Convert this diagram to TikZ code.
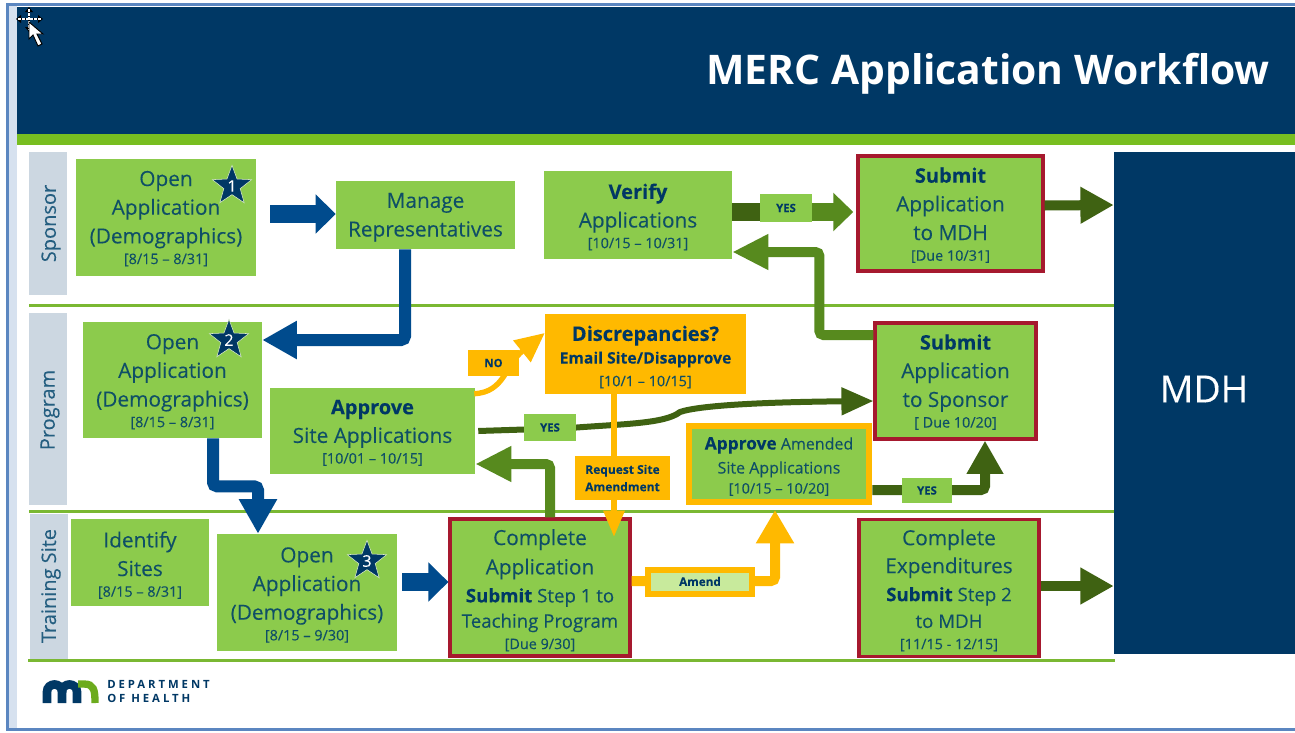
\documentclass[tikz,border=0pt]{standalone}
\usepackage{fontspec}
\setmainfont{Open Sans}[FakeBold=0.12]
\newfontfamily\plainf{Open Sans}
\usetikzlibrary{arrows.meta,shapes.geometric}
\definecolor{navy}{HTML}{003865}
\definecolor{barg}{HTML}{78BE20}
\definecolor{lineg}{HTML}{7AB832}
\definecolor{boxg}{HTML}{8CCB4C}
\definecolor{txt}{HTML}{0F4F66}
\definecolor{lane}{HTML}{CCD7E1}
\definecolor{lanetxt}{HTML}{245E80}
\definecolor{crim}{HTML}{A6192E}
\definecolor{gold}{HTML}{FFB900}
\definecolor{blu}{HTML}{004B8D}
\definecolor{dkg}{HTML}{3F6212}
\definecolor{mdg}{HTML}{578A1E}
\definecolor{pale}{HTML}{C8EA9C}
\definecolor{frameb}{HTML}{5B86C0}
\newcommand{\dt}[1]{{\fontsize{10.8}{14}\selectfont #1}}
\newcommand{\bd}[1]{{\bfseries\color{navy}#1}}
\newcommand{\bdl}[1]{{\fontsize{15}{21.5}\selectfont\bfseries\color{navy}#1}}
\newcommand{\tp}[1]{\rule{0pt}{#1pt}}
\tikzset{
  sz/.style 2 args={minimum width=#1*0.75pt,minimum height=#2*0.75pt},
  boxs/.style={fill=boxg,inner sep=0pt,align=center,text=txt,font=\fontsize{15.6}{21.5}\selectfont},
  redbox/.style={boxs,draw=crim,line width=2.4pt},
  goldbox/.style={fill=gold,inner sep=0pt,align=center,text=navy},
  lab/.style={fill=boxg,inner sep=0pt,text=navy,font=\fontsize{8.5}{10}\selectfont\bfseries},
  lanebox/.style={fill=lane,inner sep=0pt},
  lanetext/.style={rotate=90,text=lanetxt,inner sep=0pt,font=\fontsize{15}{18}\selectfont},
  starn/.style={star,star points=5,star point ratio=2.4,fill=navy,draw=boxg!30,line width=0.4pt,inner sep=0pt,minimum size=31pt},
  stnum/.style={inner sep=0pt,text=white,font=\fontsize{12}{12}\selectfont},
  bluearr/.style={draw=blu,line width=13pt,-{Triangle[width=28.5pt,length=15pt]}},
  blubend/.style={draw=blu,line width=9pt,rounded corners=3pt,-{Triangle[width=27pt,length=26pt]}},
  dkarr/.style={draw=dkg,line width=7.5pt,-{Triangle[width=26pt,length=25pt]}},
  mdarr/.style={draw=mdg,line width=7.5pt,rounded corners=3pt,-{Triangle[width=25pt,length=27pt]}},
  goldarr/.style={draw=gold,line width=7.5pt,rounded corners=3pt,-{Triangle[width=27pt,length=25pt]}},
}
\begin{document}
\begin{tikzpicture}[x=0.75pt,y=-0.75pt]
\useasboundingbox (0,0) rectangle (1295,732);
% window frame
\fill[white] (0,0) rectangle (1295,732);
\fill[frameb] (6,3) rectangle (1295,6);
\fill[frameb] (6,3) rectangle (9,731);
\fill[frameb] (6,728) rectangle (1295,731);
\fill[frameb!25] (9,6) rectangle (17,728);
% header
\fill[navy] (17,7) rectangle (1295,134);
\fill[barg] (17,134) rectangle (1295,145);
\node[inner sep=0pt,anchor=east,text=white,font=\fontsize{30.6}{36}\selectfont\bfseries\plainf] (title) at (1270,74) {MERC Application Workflow};
% lanes
\node[lanebox,sz={38}{143}] (lane1) at (48,223.5) {};
\node[lanebox,sz={38}{192}] (lane2) at (48,409) {};
\node[lanebox,sz={38}{146}] (lane3) at (49,587) {};
\node[lanetext] (t1) at (51,223.5) {Sponsor};
\node[lanetext] (t2) at (50,410) {Program};
\node[lanetext] (t3) at (51,586) {Training Site};
\fill[lineg] (29,304) rectangle (1115,307);
\fill[lineg] (29,510) rectangle (1115,513);
\fill[lineg] (28,659) rectangle (1115,662);
% MDH
\node[fill=navy,inner sep=0pt,sz={181}{502}] (mdh) at (1204.5,403) {};
\node[inner sep=0pt,text=white,font=\fontsize{28}{30}\selectfont] (mdht) at (1204,389) {MDH};
% green boxes
\node[boxs,sz={180}{117}] (open1) at (166,217.5) {\tp{13}Open\\Application\\(Demographics)\\[-6pt]\dt{[8/15 -- 8/31]}};
\node[boxs,sz={179}{68}] (manage) at (425.5,215) {\tp{14.5}Manage\\Representatives};
\node[boxs,sz={188}{88}] (verify) at (638,215) {\tp{14.5}\bdl{Verify}\\Applications\\[-6pt]\dt{[10/15 -- 10/31]}};
\node[redbox,sz={185}{115}] (submitm) at (950.5,213.5) {\tp{14}\bdl{Submit}\\Application\\to MDH\\[-6pt]\dt{[Due 10/31]}};
\node[boxs,sz={179}{116}] (open2) at (172.5,380) {\tp{14}Open\\Application\\(Demographics)\\[-6pt]\dt{[8/15 -- 8/31]}};
\node[boxs,sz={205}{86}] (approve) at (372.5,431) {\tp{13.5}\bdl{Approve}\\Site Applications\\[-6pt]\dt{[10/01 -- 10/15]}};
\node[goldbox,sz={201}{80},font=\fontsize{11.8}{17}\selectfont] (disc) at (645.5,354) {\tp{16}{\fontsize{15}{19}\selectfont\bfseries Discrepancies?}\\{\bfseries Email Site/Disapprove}\\\dt{\color{txt}[10/1 -- 10/15]}};
\node[boxs,draw=gold,line width=5pt,sz={180}{76},font=\fontsize{12}{18}\selectfont] (amended) at (779,464) {\tp{13}{\fontsize{13}{18}\selectfont\bd{Approve}} Amended\\Site Applications\\[-3pt]\dt{[10/15 -- 10/20]}};
\node[redbox,sz={161}{116}] (submits) at (955.5,381) {\tp{13}\bdl{Submit}\\Application\\to Sponsor\\[-6pt]\dt{[ Due 10/20]}};
\node[boxs,sz={138}{87}] (identify) at (140,562.5) {\tp{16}Identify\\Sites\\[-6pt]\dt{[8/15 -- 8/31]}};
\node[boxs,sz={180}{117}] (open3) at (307,592.5) {\tp{15}Open\\Application\\(Demographics)\\[-6pt]\dt{[8/15 -- 9/30]}};
\node[redbox,sz={180}{137},font=\fontsize{14}{19}\selectfont] (complete) at (540,587.5) {\tp{16}{\fontsize{15.6}{21}\selectfont Complete}\\[3pt]{\fontsize{15.6}{21}\selectfont Application}\\[2pt]\bd{Submit} Step 1 to\\Teaching Program\\[-3pt]\dt{[Due 9/30]}};
\node[redbox,sz={180}{137},font=\fontsize{14}{19}\selectfont] (expend) at (949,588) {\tp{15.5}{\fontsize{15.6}{21}\selectfont Complete}\\[2pt]{\fontsize{15.6}{21}\selectfont Expenditures}\\[2pt]\bd{Submit} Step 2\\[1pt]to MDH\\[-3pt]\dt{[11/15 - 12/15]}};
% stars
\node[starn] (s1) at (232,186) {};
\node[stnum] at (s1) {1};
\node[starn] (s2) at (229,340) {};
\node[stnum] at (s2) {2};
\node[starn] (s3) at (367,561) {};
\node[stnum] at (s3) {3};
% connectors under labels
\draw[bluearr] (open1.east |- 0,214) ++(14,0) -- (manage.west |- 0,214);
\draw[blubend] (manage.south) ++(-20.5,0) |- (open2.east |- 0,340);
\draw[blubend] (open2.south) ++(40.5,0) |- ++(45,48) -- (open3.north -| 258,0);
\draw[bluearr] (open3.east |- 0,582) ++(5,0) -- (complete.west |- 0,582);
\draw[mdarr] (submits.west) ++(0,-46) -| ++(-54,-83) -- (verify.east |- 0,252);
\draw[mdarr] (complete.north) ++(10,0) |- (approve.east |- 0,464);
\draw[dkarr] (submitm.east) ++(0,-8) -- (mdh.west |- 0,205);
\draw[dkarr] (expend.east) ++(0,-2) -- (mdh.west |- 0,586);
\draw[draw=dkg,line width=4.5pt,-{Triangle[width=20pt,length=24pt]}] (approve.east) ++(3,0) -- (570,428) .. controls (620,424) and (665,424) .. (680,412) .. controls (700,405) and (770,402) .. (submits.west |- 0,401);
\draw[draw=dkg,line width=7.5pt,rounded corners=3pt,-{Triangle[width=26pt,length=25pt]}] (amended.east) ++(0,26) -| (submits.south -| 985,0);
\draw[draw=gold,line width=4.5pt,-{Triangle[width=15pt,length=20pt]}] (disc.south) ++(-31.5,0) -- ++(0,143);
\draw[draw=gold,line width=4pt,-{Triangle[width=20pt,length=22pt]}] (approve.north east) ++(-1,6) .. controls (505,392) and (505,365) .. (disc.west |- 0,333);
\coordinate (amtip) at (775,510);
\draw[goldarr] (complete.east) ++(0,-6.5) -| (amtip);
% labels
\node[lab,sz={52}{28}] (yes1) at (786,208) {YES};
\draw[draw=dkg,line width=13pt] (verify.east |- 0,212) -- (yes1.west |- 0,212);
\draw[draw=mdg,line width=13pt,-{Triangle[width=28pt,length=15pt]}] (yes1.east |- 0,212) -- ++(41,0);
\node[lab,sz={52}{27}] (yes2) at (550,427.5) {YES};
\node[lab,sz={50}{25}] (yes3) at (927,490.5) {YES};
\node[goldbox,sz={51}{26},font=\fontsize{8.5}{10}\selectfont\bfseries] (no) at (493.5,363) {NO};
\node[goldbox,sz={95}{44},font=\fontsize{9}{13}\selectfont\bfseries] (request) at (622.5,478) {Request Site\\Amendment};
\node[fill=pale,draw=gold,line width=4.5pt,inner sep=0pt,text=navy,sz={104}{24},font=\fontsize{8.8}{10}\selectfont\bfseries] (amend) at (700,581.5) {Amend};
% logo
\draw[navy,line width=6.5pt] (47,703) -- (47,692) .. controls (47,682) and (62,682) .. (62,692) -- (62,703);
\draw[navy,line width=6.5pt] (62,692) .. controls (62,682) and (77,682) .. (77,692) -- (77,703);
\draw[barg!90!black,line width=5.5pt] (78,684) -- (84,684) .. controls (94,684) and (95,690) .. (95,703);
\node[inner sep=0pt,anchor=west,text=navy,align=left,font=\fontsize{8.5}{10.5}\selectfont\bfseries\plainf\addfontfeatures{LetterSpace=26}] (dept) at (107,691) {DEPARTMENT\\OF HEALTH};
% cursor
\fill[black] (29,7) -- (33,12) -- (25,12) -- cycle;
\fill[black] (29,32) -- (33,27) -- (25,27) -- cycle;
\fill[black] (16,19) -- (21,15) -- (21,23) -- cycle;
\fill[black] (43,19) -- (38,15) -- (38,23) -- cycle;
\draw[black,line width=2pt] (29,10) -- (29,29) (19,19) -- (40,19);
\draw[white,line width=1pt,dash pattern=on 2pt off 1pt] (29,9) -- (29,30) (18,19) -- (41,19);
\draw[black,fill=white,line width=0.7pt] (29,22) -- (29,39) -- (33,35) -- (38,46) -- (42,44) -- (37,34) -- (43,34) -- cycle;
\end{tikzpicture}
\end{document}
